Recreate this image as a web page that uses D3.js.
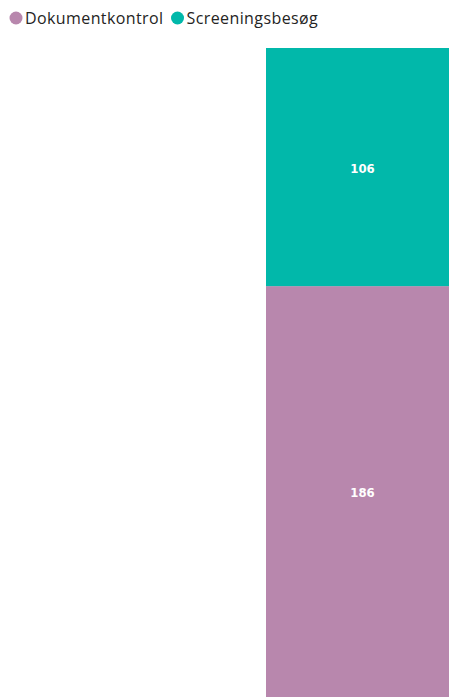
<!DOCTYPE html>
<html>
<head>
<meta charset="utf-8">
<script src="https://cdn.jsdelivr.net/npm/d3@7"></script>
<style>
  body { margin: 0; background: #fff; overflow: hidden; }
  svg { display: block; }
</style>
</head>
<body>
<svg width="449" height="697"></svg>
<script>
var width = 449;
var height = 697;

// data
var categories = ['Total'];
var seriesNames = ['Dokumentkontrol', 'Screeningsbesøg'];
var seriesColors = ['#B887AD', '#01B8AA'];
var dokumentkontrol = [186];
var screeningsbesog = [106];

var svg = d3.select('svg');

var rows = categories.map(function(c, i) {
    return { cat: c, Dokumentkontrol: dokumentkontrol[i], 'Screeningsbesøg': screeningsbesog[i] };
});
var stacked = d3.stack().keys(seriesNames)(rows);

var x = d3.scaleBand()
    .domain(categories)
    .range([266, 460])
    .padding(0);

var y = d3.scaleLinear()
    .domain([0, d3.max(rows, function(d) { return d.Dokumentkontrol + d['Screeningsbesøg']; })])
    .range([704, 48]);

var color = d3.scaleOrdinal().domain(seriesNames).range(seriesColors);

var layers = svg.selectAll('g.layer')
    .data(stacked).enter().append('g')
    .classed('layer', true)
    .attr('fill', function(d) { return color(d.key); });

layers.selectAll('rect')
    .data(function(d) { return d; })
    .enter().append('rect')
    .attr('x', function(d) { return x(d.data.cat); })
    .attr('width', x.bandwidth())
    .attr('y', function(d) { return y(d[1]); })
    .attr('height', function(d) { return y(d[0]) - y(d[1]); });

// value labels, centred in the visible part of each segment
layers.selectAll('text')
    .data(function(d) { return d; })
    .enter().append('text')
    .attr('x', function(d) { return x(d.data.cat) + x.bandwidth() / 2 - 0.5; })
    .attr('y', function(d) { return (Math.min(y(d[0]), height) + y(d[1])) / 2 + 1; })
    .attr('text-anchor', 'middle')
    .attr('dominant-baseline', 'central')
    .attr('fill', '#fff')
    .style('font-family', '"DejaVu Sans Condensed", "DejaVu Sans", sans-serif')
    .style('font-weight', 'bold')
    .style('font-size', '13px')
    .text(function(d) { return d[1] - d[0]; });

// legend
var legend = svg.append('g').attr('transform', 'translate(0,18)');
var lx = 16;
seriesNames.forEach(function(name) {
    legend.append('circle')
        .attr('cx', lx)
        .attr('cy', 0)
        .attr('r', 6.5)
        .attr('fill', color(name));
    var t = legend.append('text')
        .attr('x', lx + 9)
        .attr('y', 0)
        .attr('dominant-baseline', 'central')
        .attr('fill', '#252423')
        .style('font-family', '"Open Sans", sans-serif')
        .style('font-size', '16px')
        .style('letter-spacing', '0.4px')
        .text(name);
    lx += 9 + t.node().getComputedTextLength() + 14;
});
</script>
</body>
</html>
